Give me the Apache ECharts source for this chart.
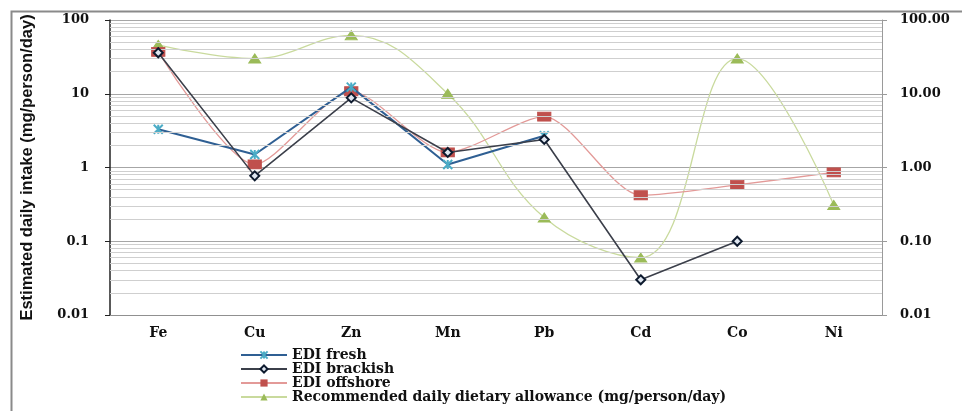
<!DOCTYPE html>
<html>
<head>
<meta charset="utf-8">
<script src="https://cdn.jsdelivr.net/npm/echarts@6/dist/echarts.min.js"></script>
<style>
html,body{margin:0;padding:0;background:#fff;}
#chart{width:962px;height:411px;}
</style>
</head>
<body>
<div id="chart"></div>
<script>
var categories = ['Fe', 'Cu', 'Zn', 'Mn', 'Pb', 'Cd', 'Co', 'Ni'];
var ediFresh = [3.3, 1.5, 12.3, 1.1, 2.7, null, null, null];
var ediBrackish = [36, 0.77, 8.8, 1.6, 2.4, 0.030, 0.10, null];
var ediOffshore = [37, 1.1, 10.8, 1.6, 4.9, 0.42, 0.58, 0.86];
var recommended = [46, 30, 62, 10, 0.21, 0.06, 30, 0.31];
var seriesNames = ['EDI fresh', 'EDI brackish', 'EDI offshore', 'Recommended daily dietary allowance (mg/person/day)'];
var leftTickLabels = {0.01: '0.01', 0.1: '0.1', 1: '1', 10: '10', 100: '100'};
var yAxisTitle = 'Estimated daily intake (mg/person/day)';

var minorLines = [];
[0.01, 0.1, 1, 10].forEach(function (base) {
  for (var k = 2; k <= 9; k++) minorLines.push({ yAxis: +(base * k).toPrecision(3) });
});

var serif = "'DejaVu Serif', serif";
var chart = echarts.init(document.getElementById('chart'), null, { renderer: 'canvas' });
chart.setOption({
  animation: false,
  backgroundColor: '#fff',
  graphic: [{
    type: 'rect', left: 9, top: 9, silent: true,
    shape: { width: 1000, height: 500 },
    style: { fill: 'none', stroke: '#8a8a8a', lineWidth: 2 }
  }],
  grid: { left: 110, right: 80, top: 20, bottom: 96 },
  legend: {
    orient: 'vertical', left: 240, top: 348, itemGap: 0, padding: 0,
    height: 80,
    itemWidth: 46, itemHeight: 9,
    textStyle: { fontFamily: serif, fontWeight: 'bold', fontSize: 14, lineHeight: 14, color: '#111' },
    data: seriesNames
  },
  xAxis: {
    type: 'category', data: categories, boundaryGap: true,
    axisLine: { lineStyle: { color: '#909090', width: 1 } },
    axisTick: { alignWithLabel: true, length: 5, lineStyle: { color: '#909090' } },
    axisLabel: { fontFamily: serif, fontWeight: 'bold', fontSize: 14, color: '#111', margin: 11 }
  },
  yAxis: [{
    type: 'log', logBase: 10, min: 0.01, max: 100,
    name: yAxisTitle, nameLocation: 'middle', nameGap: 74, nameRotate: 90,
    nameTextStyle: { fontFamily: "'Liberation Sans Narrow', 'Liberation Sans', sans-serif", fontSize: 16.5, fontWeight: 'bold', color: '#111' },
    axisLine: { show: true, lineStyle: { color: '#222', width: 1.5 } },
    axisTick: { show: true, inside: false, length: 5, lineStyle: { color: '#222' } },
    axisLabel: { fontFamily: serif, fontWeight: 'bold', fontSize: 13, color: '#111', margin: 21,
      formatter: function (v) { var k = +v.toPrecision(3); return leftTickLabels[k] || String(k); } },
    splitLine: { show: true, lineStyle: { color: '#a6a6a6', width: 1 } }
  }, {
    type: 'log', logBase: 10, min: 0.01, max: 100, position: 'right',
    axisLine: { show: true, lineStyle: { color: '#9a9a9a', width: 1 } },
    axisTick: { show: true, length: 5, lineStyle: { color: '#9a9a9a' } },
    axisLabel: { fontFamily: serif, fontWeight: 'bold', fontSize: 13, color: '#111', margin: 18,
      formatter: function (v) { return (+v).toFixed(2); } },
    splitLine: { show: false }
  }],
  series: [{
    name: seriesNames[0], type: 'line', data: ediFresh, yAxisIndex: 0,
    symbol: 'path://M0,0L10,10M10,0L0,10M5,0L5,10', symbolSize: 9,
    itemStyle: { color: '#4bacc6', borderColor: '#4bacc6', borderWidth: 2 },
    lineStyle: { color: '#2f5f93', width: 2 },
    markLine: {
      silent: true, symbol: ['none', 'none'], label: { show: false },
      lineStyle: { color: '#cfcfcf', width: 1, type: 'solid' },
      emphasis: { disabled: true },
      data: minorLines
    },
    z: 4
  }, {
    name: seriesNames[1], type: 'line', data: ediBrackish, yAxisIndex: 0,
    symbol: 'diamond', symbolSize: 9,
    itemStyle: { color: '#dfe6f0', borderColor: '#0d1a2e', borderWidth: 2 },
    lineStyle: { color: '#3b3f4a', width: 1.6 },
    z: 5
  }, {
    name: seriesNames[2], type: 'line', data: ediOffshore, yAxisIndex: 0,
    smooth: 0.25,
    symbol: 'rect', symbolSize: [13, 9],
    itemStyle: { color: '#c0504d', borderColor: '#c0504d' },
    lineStyle: { color: '#e39a98', width: 1.3 },
    z: 3
  }, {
    name: seriesNames[3], type: 'line', data: recommended, yAxisIndex: 0,
    smooth: 0.4,
    symbol: 'triangle', symbolSize: [12, 9],
    itemStyle: { color: '#9bbb59', borderColor: '#9bbb59' },
    lineStyle: { color: '#c9da9d', width: 1.3 },
    z: 2
  }]
});
</script>
</body>
</html>
